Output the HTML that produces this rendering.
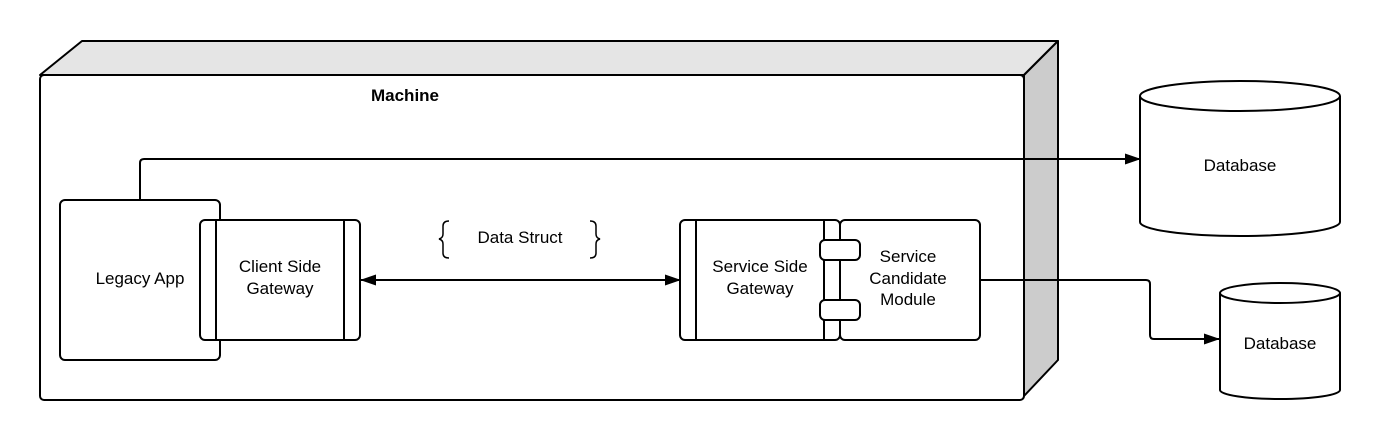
<!DOCTYPE html>
<html><head><meta charset="utf-8"><style>body{margin:0;background:#fff}svg{display:block}</style></head>
<body>
<svg width="1380" height="440" xmlns="http://www.w3.org/2000/svg" font-family="Liberation Sans, sans-serif" font-size="17">
<defs><marker id="a" markerWidth="16" markerHeight="12" refX="15" refY="6" orient="auto" markerUnits="userSpaceOnUse"><path d="M0,0.5L16,6L0,11.5Z" fill="#000"/></marker>
<marker id="b" markerWidth="16" markerHeight="12" refX="1" refY="6" orient="auto" markerUnits="userSpaceOnUse"><path d="M16,0.5L0,6L16,11.5Z" fill="#000"/></marker></defs>
<g stroke="#000" stroke-width="2" stroke-linejoin="round">
<path d="M40,75 L82,41 L1058,41 L1024,75 Z" fill="#e5e5e5"/>
<path d="M1024,75 L1058,41 L1058,360 L1024,396 Z" fill="#cccccc"/>
<rect x="40" y="75" width="984" height="325" rx="4" fill="#fff"/>
</g>
<text x="405" y="101" font-weight="bold" text-anchor="middle">Machine</text>
<g stroke="#000" stroke-width="2" fill="none">
<path d="M140,200 V163 Q140,159 144,159 H1140" marker-end="url(#a)"/>
<rect x="60" y="200" width="160" height="160" rx="5" fill="#fff"/>
<rect x="200" y="220" width="160" height="120" rx="5" fill="#fff"/>
<line x1="216" y1="220" x2="216" y2="340"/><line x1="344" y1="220" x2="344" y2="340"/>
<line x1="361" y1="280" x2="680" y2="280" marker-start="url(#b)" marker-end="url(#a)"/>
<rect x="680" y="220" width="160" height="120" rx="5" fill="#fff"/>
<line x1="696" y1="220" x2="696" y2="340"/><line x1="824" y1="220" x2="824" y2="340"/>
<rect x="840" y="220" width="140" height="120" rx="5" fill="#fff"/>
<rect x="820" y="240" width="40" height="20" rx="5" fill="#fff"/>
<rect x="820" y="300" width="40" height="20" rx="5" fill="#fff"/>
<path d="M980,280 H1146 Q1150,280 1150,284 V335 Q1150,339 1154,339 H1219" marker-end="url(#a)"/>
<path d="M1140,96 V222 A100,14 0 0 0 1340,222 V96" fill="#fff"/>
<ellipse cx="1240" cy="96" rx="100" ry="15" fill="#fff"/>
<path d="M1220,293 V390 A60,9 0 0 0 1340,390 V293" fill="#fff"/>
<ellipse cx="1280" cy="293" rx="60" ry="10" fill="#fff"/>
<path d="M449,221 Q443,221 443,226 V234 Q443,238 439,239 Q443,240 443,244 V253 Q443,258 449,258" stroke-width="1.5"/>
<path d="M590,221 Q596,221 596,226 V234 Q596,238 600,239 Q596,240 596,244 V253 Q596,258 590,258" stroke-width="1.5"/>
</g>
<g text-anchor="middle" fill="#000">
<text x="140" y="284">Legacy App</text>
<text x="280" y="272">Client Side</text><text x="280" y="294">Gateway</text>
<text x="520" y="243">Data Struct</text>
<text x="760" y="272">Service Side</text><text x="760" y="294">Gateway</text>
<text x="908" y="262">Service</text><text x="908" y="284">Candidate</text><text x="908" y="305">Module</text>
<text x="1240" y="171">Database</text>
<text x="1280" y="349">Database</text>
</g>
</svg>
</body></html>
